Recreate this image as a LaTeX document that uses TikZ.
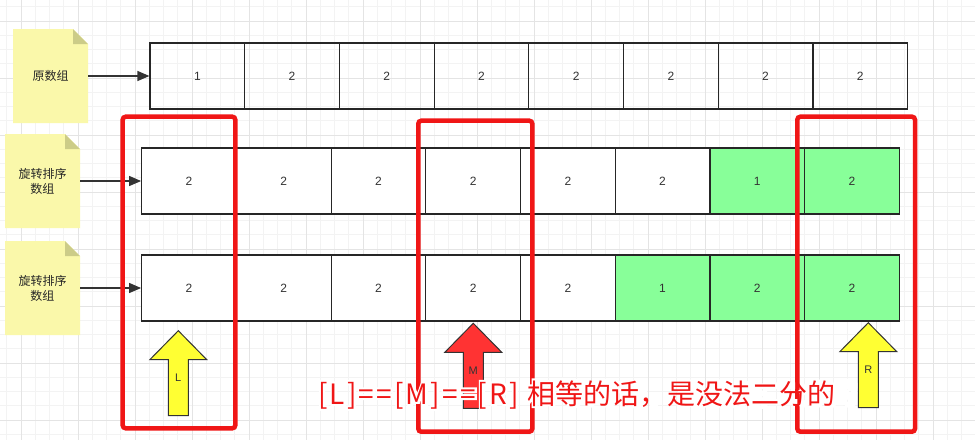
\documentclass[tikz,border=0pt]{standalone}
\usepackage{fontspec}
\setmainfont{Liberation Sans}
\newfontfamily\cjk{Noto Sans CJK SC}
\newfontfamily\cjkwide[LetterSpace=7.8]{Noto Sans CJK SC}
\usetikzlibrary{arrows.meta}
\definecolor{gridminor}{RGB}{243,243,243}
\definecolor{gridmajor}{RGB}{228,228,228}
\definecolor{notefill}{RGB}{250,248,170}
\definecolor{notefold}{RGB}{204,204,136}
\definecolor{cellgreen}{RGB}{136,255,153}
\definecolor{markred}{RGB}{240,22,22}
\definecolor{ptryellow}{RGB}{255,255,51}
\definecolor{ptrred}{RGB}{255,51,51}
\newcommand\halotext[1]{\special{pdf:literal direct 1 Tr 4 w}#1\special{pdf:literal direct 0 Tr}}
\begin{document}
\begin{tikzpicture}[x=1pt,y=-1pt,
	cell/.style={draw=black!85,line width=1.2pt,minimum width=94.7pt,minimum height=66pt,inner sep=0pt,font=\fontsize{12}{14}\selectfont,text=black!80},
	notebox/.style={minimum width=75pt,minimum height=94pt,inner sep=0pt,align=center,font=\cjk\fontsize{12}{15}\selectfont,text=black!85},
	link/.style={draw=black!80,line width=1.2pt,-{Triangle[length=12pt,width=10pt]}},
	markbox/.style={draw=markred,line width=4.5pt,rounded corners=3pt},
	pointer/.style={draw=black!80,line width=1pt},
	ptrlabel/.style={font=\fontsize{11}{13}\selectfont,text=black!80},
	capline/.style={font=\cjk\fontsize{28}{32}\selectfont,text=markred,anchor=base west,inner sep=0pt}]
	\useasboundingbox[fill=white] (0,0) rectangle (975,440);
	% grid
	\foreach \i in {0,...,68} \draw[gridminor,line width=1pt] ({6.75+14.25*\i},0) -- ({6.75+14.25*\i},440);
	\foreach \j in {0,...,30} \draw[gridminor,line width=1pt] (0,{6.75+14.25*\j}) -- (975,{6.75+14.25*\j});
	\foreach \i in {0,...,17} \draw[gridmajor,line width=1pt] ({21+57*\i},0) -- ({21+57*\i},440);
	\foreach \j in {0,...,7} \draw[gridmajor,line width=1pt] (0,{21+57*\j}) -- (975,{21+57*\j});
	% arrays
	\foreach \v [count=\i] in {1,2,2,2,2,2,2,2}
		\node[cell] (a\i) at ({150+94.7*(\i-0.5)},76) {\v};
	\foreach \v/\f [count=\i] in {2/white,2/white,2/white,2/white,2/white,2/white,1/cellgreen,2/cellgreen}
		\node[cell,fill=\f] (b\i) at ({141.7+94.7*(\i-0.5)},181) {\v};
	\foreach \v/\f [count=\i] in {2/white,2/white,2/white,2/white,2/white,1/cellgreen,2/cellgreen,2/cellgreen}
		\node[cell,fill=\f] (c\i) at ({141.7+94.7*(\i-0.5)},288) {\v};
	% notes
	\foreach \name/\x/\y/\txt in {n1/50.5/76/原数组, n2/42.5/181/{旋转排序\\数组}, n3/42.5/288/{旋转排序\\数组}} {
		\fill[notefill] ({\x-37.5},{\y+47}) -- ({\x-37.5},{\y-47}) -- ({\x+22.5},{\y-47}) -- ({\x+37.5},{\y-32}) -- ({\x+37.5},{\y+47}) -- cycle;
		\fill[notefold] ({\x+22.5},{\y-47}) -- ({\x+22.5},{\y-32}) -- ({\x+37.5},{\y-32}) -- cycle;
		\node[notebox] (\name) at (\x,\y) {\txt};
	}
	\draw[link] (n1) -- (a1);
	\draw[link] (n2) -- (b1);
	\draw[link] (n3) -- (c1);
	% pointers
	\foreach \x/\y/\c/\t in {178.3/330.7/ptryellow/L, 473.3/323.3/ptrred/M, 868.3/322.7/ptryellow/R} {
		\filldraw[pointer,fill=\c] (\x,\y) -- ({\x+28.5},{\y+29}) -- ({\x+10},{\y+29}) -- ({\x+10},{\y+85}) -- ({\x-10},{\y+85}) -- ({\x-10},{\y+29}) -- ({\x-28.5},{\y+29}) -- cycle;
		\node[ptrlabel] (p\t) at (\x,{\y+47}) {\t};
	}
	% red frames
	\draw[markbox] (122.7,116.7) rectangle (235.3,428.3);
	\draw[markbox] (418.3,120.7) rectangle (532.3,431.7);
	\draw[markbox] (797.3,116.7) rectangle (915,431.7);
	% caption
	\node[capline,text=white] at (318,404) {\halotext{\cjkwide\fontsize{28}{32}\selectfont [L]==[M]==[R] }\halotext{相等的话，是没法二分的}};
	\node[capline] (cond) at (318,404) {{\cjkwide\fontsize{28}{32}\selectfont [L]==[M]==[R] }相等的话，是没法二分的};
\end{tikzpicture}
\end{document}
